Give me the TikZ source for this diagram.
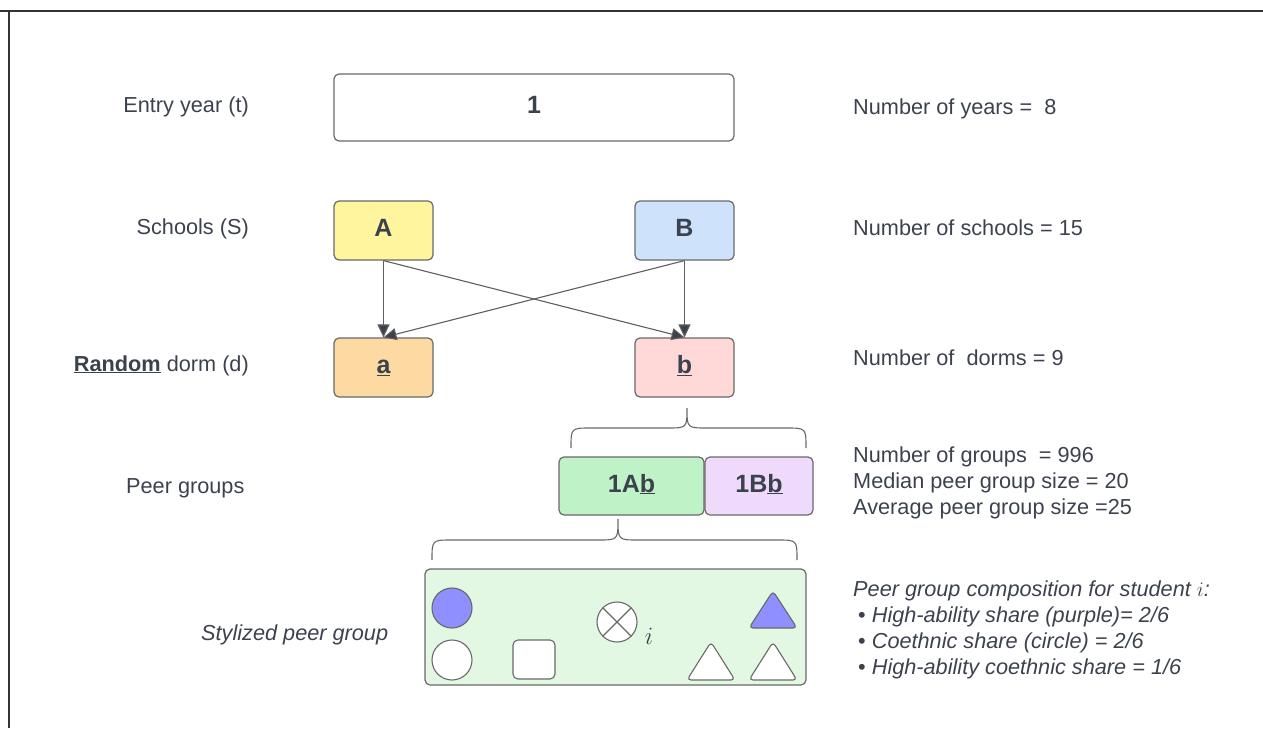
\documentclass[tikz,border=0pt]{standalone}
\usepackage{fontspec}
\setmainfont{Liberation Sans}
\usetikzlibrary{arrows.meta}
\definecolor{txt}{RGB}{60,66,77}
\definecolor{bord}{RGB}{105,105,105}
\definecolor{cA}{RGB}{255,245,158}
\definecolor{cB}{RGB}{207,226,252}
\definecolor{ca}{RGB}{253,218,161}
\definecolor{cb}{RGB}{255,216,216}
\definecolor{cAb}{RGB}{192,242,200}
\definecolor{cBb}{RGB}{240,218,251}
\definecolor{cgrp}{RGB}{226,248,226}
\definecolor{purp}{RGB}{143,143,255}
\begin{document}
\begin{tikzpicture}[x=1pt,y=-1pt,
  lbl/.style={text=txt,font=\fontsize{21.7}{26}\selectfont,inner sep=0pt},
  box/.style={draw=bord,line width=1.2pt,rounded corners=5pt,text=txt,
    font=\fontsize{25}{30}\selectfont\bfseries,inner sep=0pt,
    text height=18pt,text depth=6pt},
  conn/.style={draw=bord!90!black,line width=1.1pt,
    -{Triangle[length=13pt,width=12pt,fill=txt]}},
  brc/.style={draw=bord,line width=1.1pt},
  shp/.style={draw=bord,line width=1.1pt}]
\useasboundingbox (0,0) rectangle (1263,728);
\draw[line width=1.2pt,black!80] (0,11) -- (1263,11);
\draw[line width=1.2pt,black!80] (9,11) -- (9,728);

% left labels
\node[lbl,anchor=base east] (l1) at (249,112) {Entry year (t)};
\node[lbl,anchor=base east] (l2) at (249,234) {Schools (S)};
\node[lbl,anchor=base east] (l3) at (249,371) {\textbf{\underline{Random}} dorm (d)};
\node[lbl,anchor=base west] (l4) at (126,493) {Peer groups};
\node[lbl,anchor=base west] (l5) at (201,640) {\itshape Stylized peer group};

% boxes
\node[box,fill=white,minimum width=400,minimum height=67] (yr) at (534,107.5) {1};
\node[box,fill=cA,minimum width=99,minimum height=59] (A) at (383.5,230.5) {A};
\node[box,fill=cB,minimum width=99,minimum height=59] (B) at (684.5,230.5) {B};
\node[box,fill=ca,minimum width=99,minimum height=59] (a) at (383.5,367.5) {\underline{a}};
\node[box,fill=cb,minimum width=99,minimum height=59] (b) at (684.5,367.5) {\underline{b}};
\node[box,fill=cAb,minimum width=145,minimum height=58] (Ab) at (631.5,486) {1A\underline{b}};
\node[box,fill=cBb,minimum width=108,minimum height=58] (Bb) at (759,486) {1B\underline{b}};
\node[box,fill=cgrp,minimum width=381,minimum height=116,font=\normalfont] (grp) at (615.5,627) {};

% arrows
\draw[conn] (A.south) -- (a.north);
\draw[conn] (A.south) -- (b.north);
\draw[conn] (B.south) -- (a.north);
\draw[conn] (B.south) -- (b.north);

% braces
\coordinate (t1) at (687,408);
\coordinate (t2) at (618,519);
\draw[brc] (571,448) .. controls (571,428) .. (591,428) -- (667,428)
  .. controls (687,428) .. (t1) .. controls (687,428) .. (707,428) -- (786,428)
  .. controls (806,428) .. (806,448);
\draw[brc] (432,560) .. controls (432,540) .. (452,540) -- (598,540)
  .. controls (618,540) .. (t2) .. controls (618,540) .. (638,540) -- (777,540)
  .. controls (797,540) .. (797,560);

% shapes in stylized group
\draw[shp,fill=purp] (452,608) circle (20);
\draw[shp,fill=white] (452,660) circle (20);
\draw[shp,fill=white,rounded corners=5pt] (513,640) rectangle (555,679);
\draw[shp,fill=white] (617,622) circle (20);
\draw[shp] (617,622) ++(45:20) -- ++(225:40);
\draw[shp] (617,622) ++(135:20) -- ++(315:40);
\node[lbl,anchor=base,font=\fontsize{23}{27}\selectfont] (iv) at (649,644) {$i$};
\draw[shp,fill=purp,rounded corners=4pt] (773,591) -- (797,628) -- (749,628) -- cycle;
\draw[shp,fill=white,rounded corners=4pt] (711,642) -- (735,680) -- (687,680) -- cycle;
\draw[shp,fill=white,rounded corners=4pt] (773,642) -- (797,680) -- (749,680) -- cycle;

% right texts
\node[lbl,anchor=base west] (r1) at (853,114) {Number of years =\ \ 8};
\node[lbl,anchor=base west] (r2) at (853,235) {Number of schools = 15};
\node[lbl,anchor=base west] (r3) at (853,365) {Number of\ \ dorms = 9};
\node[lbl,anchor=base west] (r4) at (853,462) {Number of groups\ \ = 996};
\node[lbl,anchor=base west] (r5) at (853,488) {Median peer group size = 20};
\node[lbl,anchor=base west] (r6) at (853,514) {Average peer group size =25};
\node[lbl,anchor=base west] (r7) at (853,596) {\itshape Peer group composition for student $i$:};
\node[lbl,anchor=base west] (r8) at (858,622) {\textbullet\ \itshape High-ability share (purple)= 2/6};
\node[lbl,anchor=base west] (r9) at (858,648) {\textbullet\ \itshape Coethnic share (circle) = 2/6};
\node[lbl,anchor=base west] (r10) at (858,674) {\textbullet\ \itshape High-ability coethnic share = 1/6};
\end{tikzpicture}
\end{document}
